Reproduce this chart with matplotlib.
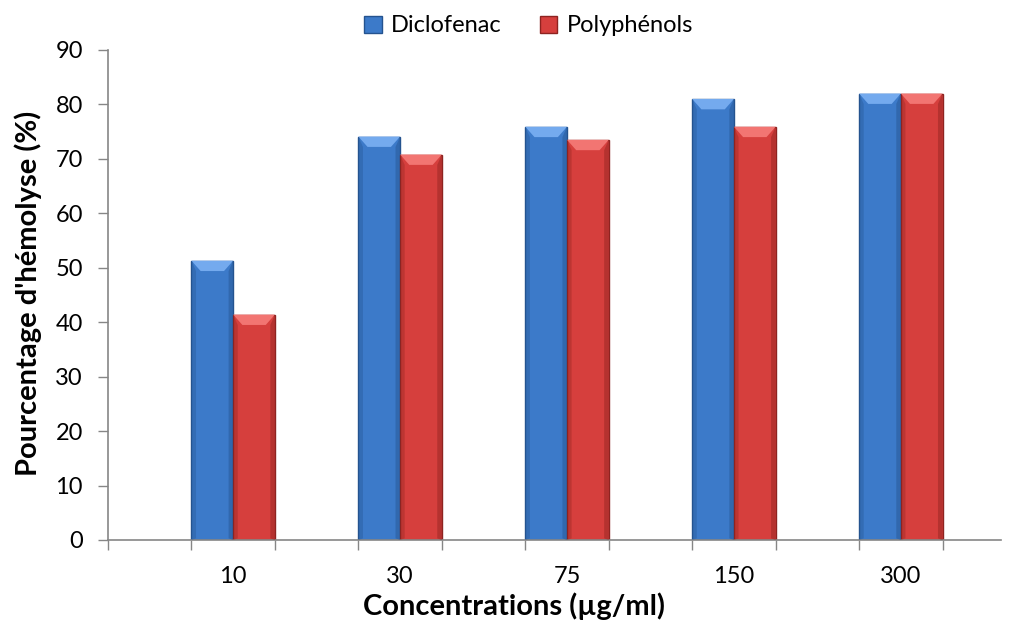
import numpy as np
import matplotlib
matplotlib.use("Agg")
import matplotlib.pyplot as plt
from matplotlib.patches import Polygon, Patch

concentrations = ["10", "30", "75", "150", "300"]
diclofenac = [51.3, 74.1, 75.9, 81.0, 82.0]
polyphenols = [41.4, 70.8, 73.5, 75.9, 82.0]
series_names = ["Diclofenac", "Polyphénols"]

plt.rcParams["font.family"] = ["Lato", "DejaVu Sans"]

fig = plt.figure(figsize=(10.11, 6.21), dpi=100)
ax = fig.add_axes([108 / 1011, 1 - 540 / 621, (1001 - 108) / 1011, 490 / 621])

x = np.arange(len(concentrations))
w = 0.25
styles = [
    dict(face="#3C7AC9", edge="#24538F", top="#74AAEE"),
    dict(face="#D63F3D", edge="#8E2320", top="#F27572"),
]

for si, vals in enumerate([diclofenac, polyphenols]):
    st = styles[si]
    xs = x - w / 2 + si * w
    ax.bar(xs, vals, width=w, color=st["face"], edgecolor=st["edge"], linewidth=1.0, zorder=2)
    # bevel highlight on top of each bar, darker sides
    bh = 1.9
    bi = 0.055
    for xc, v in zip(xs, vals):
        l, r = xc - w / 2, xc + w / 2
        ax.add_patch(Polygon([(l, v), (r, v), (r - bi, v - bh), (l + bi, v - bh)],
                             closed=True, facecolor=st["top"], edgecolor="none", zorder=3))
        ax.add_patch(Polygon([(l, v), (l + bi * 0.5, v - bh), (l + bi * 0.5, 0.3), (l, 0)],
                             closed=True, facecolor=st["edge"], alpha=0.35, edgecolor="none", zorder=3))
        ax.add_patch(Polygon([(r, v), (r - bi * 0.5, v - bh), (r - bi * 0.5, 0.3), (r, 0)],
                             closed=True, facecolor=st["edge"], alpha=0.45, edgecolor="none", zorder=3))

ax.set_xlim(-0.75, 4.6)
ax.set_ylim(0, 90)
ax.set_yticks(np.arange(0, 91, 10))

# ticks at bar edges (Excel-style), labels at category centers
edges = np.arange(-0.75, 4.6, 0.5)
ax.set_xticks(edges)
ax.set_xticklabels([])
ax.set_xticks(x, minor=True)
ax.set_xticklabels(concentrations, minor=True)
ax.tick_params(axis="x", which="minor", length=0, pad=19, labelsize=17)
ax.tick_params(axis="x", which="major", length=7, color="#868686", width=1)
ax.tick_params(axis="y", length=7, color="#868686", width=1, labelsize=17, pad=11)

for s in ("top", "right"):
    ax.spines[s].set_visible(False)
for s in ("left", "bottom"):
    ax.spines[s].set_color("#868686")
    ax.spines[s].set_linewidth(1.2)

fig.text(514 / 1011, 1 - 606 / 621, "Concentrations (µg/ml)", fontsize=21,
         fontweight="bold", ha="center", va="center")
fig.text(28 / 1011, 1 - 293 / 621, "Pourcentage d'hémolyse (%)", fontsize=21,
         fontweight="bold", ha="center", va="center", rotation=90)

handles = [Patch(facecolor=st["face"], edgecolor=st["edge"]) for st in styles]
fig.legend(handles, series_names, loc="center", bbox_to_anchor=(0.523, 1 - 26 / 621),
           ncol=2, frameon=False, fontsize=17, handlelength=0.75, handleheight=0.75,
           handletextpad=0.4, columnspacing=1.6, borderpad=0)

fig.savefig("out.png", dpi=100)
